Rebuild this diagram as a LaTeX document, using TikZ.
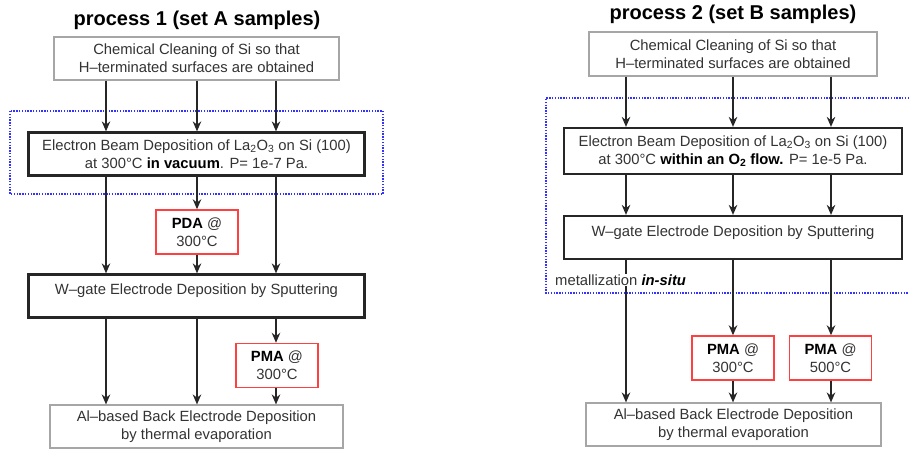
\documentclass[tikz,border=0pt]{standalone}
\usepackage{fontspec}
\setmainfont{Liberation Sans}
\usetikzlibrary{arrows.meta}

\begin{document}
\begin{tikzpicture}[x=1pt,y=-1pt,
  every node/.style={font=\fontsize{14.8}{18}\selectfont,text=black!80},
  title/.style={font=\fontsize{20}{22}\selectfont\bfseries,text=black},
  plainbox/.style={draw=gray!70,line width=1.1pt,fill=white,align=center,
    minimum height=43pt},
  thickbox/.style={draw=black!85,line width=2.2pt,fill=white,
    minimum width=336pt,minimum height=43pt},
  heatbox/.style={draw=red!75,line width=1.4pt,fill=white,align=center,
    minimum width=82pt,minimum height=44pt},
  insitu/.style={draw=blue!80,dash pattern=on 1.4pt off 1.4pt,line width=2pt},
  arr/.style={-{Stealth[length=10pt,width=8.5pt]},line width=1.6pt,black!85},]

  \useasboundingbox (0,0) rectangle (909,449);

  % ---------- process 1 ----------
  \node[title] (t1) at (197,20) {process 1 (set A samples)};
  \draw[insitu] (10,111) rectangle (383,194);

  \node[plainbox,minimum width=285pt] (a1) at (196.5,58.5)
    {Chemical Cleaning of Si so that\\H--terminated surfaces are obtained};
  \node[thickbox,align=center] (a2) at (196.5,154)
    {Electron Beam Deposition of La\textsubscript{2}O\textsubscript{3} on Si (100)\\
     at 300°C \textbf{\color{black}in vacuum}. P= 1e-7 Pa.};
  \node[heatbox] (apda) at (197,232) {\textbf{\color{black}PDA} @\\300°C};
  \node[thickbox,text depth=13.5pt] (a3) at (196.5,296)
    {W--gate Electrode Deposition by Sputtering};
  \node[heatbox] (apma) at (277,365.5) {\textbf{\color{black}PMA} @\\300°C};
  \node[plainbox,minimum width=293pt] (a4) at (196.5,426.5)
    {Al--based Back Electrode Deposition\\by thermal evaporation};

  \coordinate (l1) at (106,0);
  \coordinate (l2) at (197,0);
  \coordinate (l3) at (276,0);

  \draw[arr] (a1.south -| l1) -- (a2.north -| l1);
  \draw[arr] (a1.south -| l2) -- (a2.north -| l2);
  \draw[arr] (a1.south -| l3) -- (a2.north -| l3);

  \draw[arr] (a2.south -| l1) -- (a3.north -| l1);
  \draw[arr] (a2.south -| l2) -- (apda.north -| l2);
  \draw[arr] (apda.south -| l2) -- (a3.north -| l2);
  \draw[arr] (a2.south -| l3) -- (a3.north -| l3);

  \draw[arr] (a3.south -| l1) -- (a4.north -| l1);
  \draw[arr] (a3.south -| l2) -- (a4.north -| l2);
  \draw[arr] (a3.south -| l3) -- (apma.north -| l3);
  \draw[arr] (apma.south -| l3) -- (a4.north -| l3);

  % ---------- process 2 ----------
  \node[title] (t2) at (733,14) {process 2 (set B samples)};
  \draw[insitu] (909,98) -- (546,98) -- (546,293) -- (909,293);

  \node[plainbox,minimum width=288pt,minimum height=44pt] (b1) at (733,54)
    {Chemical Cleaning of Si so that\\H--terminated surfaces are obtained};
  \node[thickbox,align=center,minimum width=338pt,minimum height=46pt] (b2)
    at (733,151)
    {Electron Beam Deposition of La\textsubscript{2}O\textsubscript{3} on Si (100)\\
     at 300°C \textbf{\color{black}within an O\textsubscript{2} flow.} P= 1e-5 Pa.};
  \node[thickbox,minimum width=338pt,text depth=13.5pt] (b3) at (733,237.5)
    {W--gate Electrode Deposition by Sputtering};
  \node[heatbox] (bpma1) at (733,358) {\textbf{\color{black}PMA} @\\300°C};
  \node[heatbox] (bpma2) at (830.5,358) {\textbf{\color{black}PMA} @\\500°C};
  \node[plainbox,minimum width=295pt] (b4) at (733.5,424.5)
    {Al--based Back Electrode Deposition\\by thermal evaporation};

  \coordinate (r1) at (626,0);
  \coordinate (r2) at (733,0);
  \coordinate (r3) at (831,0);

  \draw[arr] (b1.south -| r1) -- (b2.north -| r1);
  \draw[arr] (b1.south -| r2) -- (b2.north -| r2);
  \draw[arr] (b1.south -| r3) -- (b2.north -| r3);

  \draw[arr] (b2.south -| r1) -- (b3.north -| r1);
  \draw[arr] (b2.south -| r2) -- (b3.north -| r2);
  \draw[arr] (b2.south -| r3) -- (b3.north -| r3);

  \draw[arr] (b3.south -| r1) -- (b4.north -| r1);
  \draw[arr] (b3.south -| r2) -- (bpma1.north -| r2);
  \draw[arr] (bpma1.south -| r2) -- (b4.north -| r2);
  \draw[arr] (b3.south -| r3) -- (bpma2.north -| r3);
  \draw[arr] (bpma2.south -| r3) -- (b4.north -| r3);

  % metallization label
  \node[fill=white,inner sep=1pt,anchor=west] (met) at (554,280)
    {metallization \textbf{\textit{\color{black}in-situ}}};

\end{tikzpicture}
\end{document}
